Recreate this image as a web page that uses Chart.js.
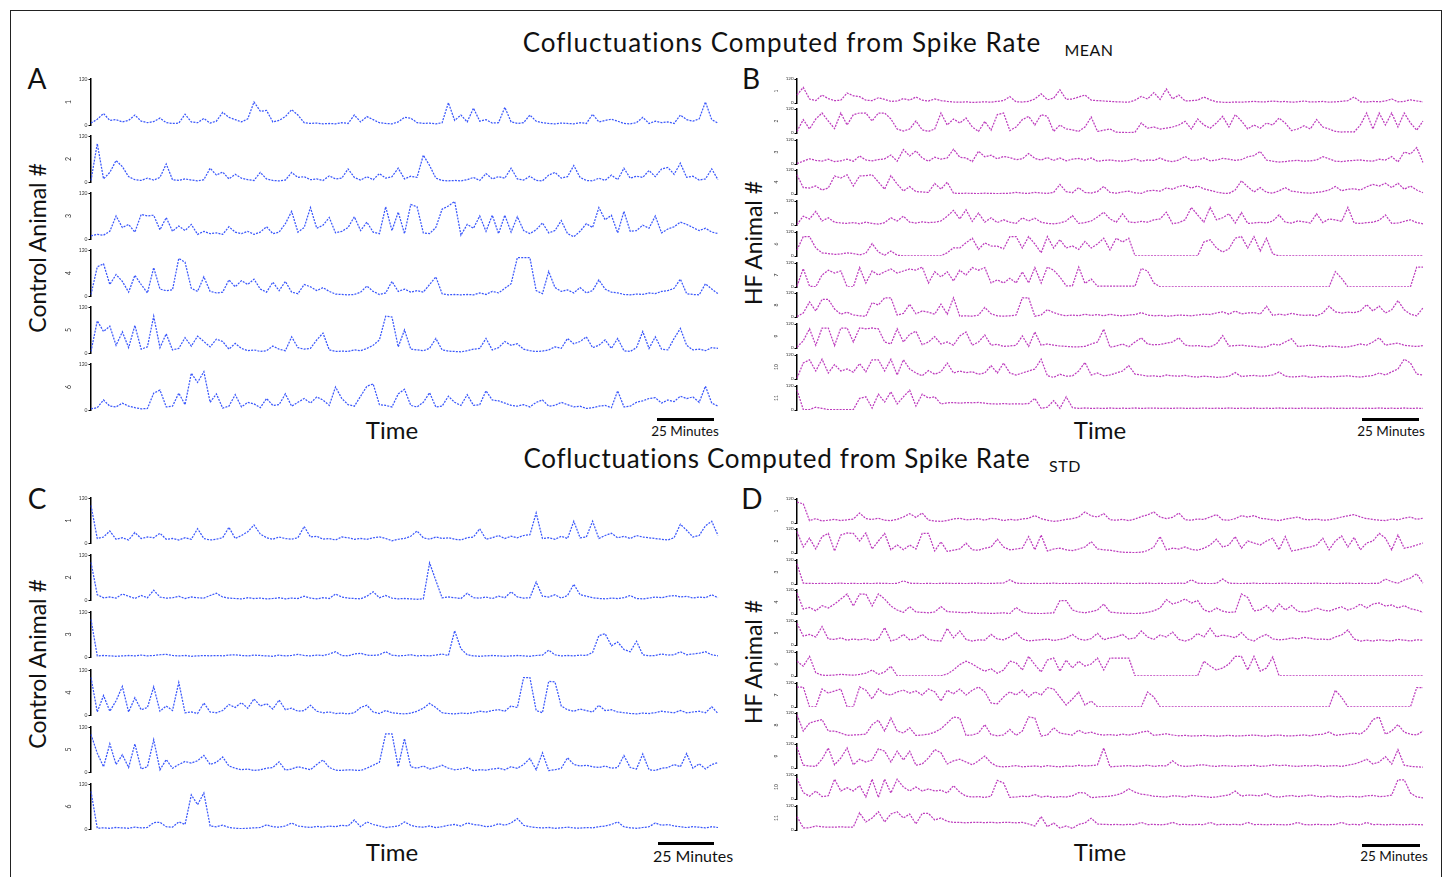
<!DOCTYPE html>
<html>
<head>
<meta charset="utf-8">
<title>Cofluctuations Computed from Spike Rate</title>
<script src="https://cdn.jsdelivr.net/npm/chart.js@4.4.0/dist/chart.umd.min.js"></script>
<style>
  body { margin: 0; background: #fff; font-family: Lato, "Open Sans", sans-serif; color: #111; }
  #frame { position: absolute; left: 10px; top: 10px; width: 1430px; height: 900px; border: 1px solid #222; }
  .txt { position: absolute; white-space: nowrap; line-height: 1; }
  .bar { position: absolute; background: #000; height: 3px; }
  canvas { position: absolute; }
</style>
</head>
<body>
<div id="frame"></div>
<script>
// y axis ticks shared by every trace
const yTicks = [0, 120];

// A: mean, control animals 1-6
const meanCtrl1 = [5,15,30,12,14,8,12,26,10,6, 9,18,6,4,5,28,8,6,17,5, 10,33,20,14,8,16,60,36,38,8, 12,22,40,26,6,4,5,3,4,3, 6,4,26,8,22,14,6,4,3,8, 20,18,6,4,5,3,6,58,12,26, 8,44,10,14,5,6,46,8,4,6, 26,10,6,4,3,5,4,3,6,4, 28,8,12,15,10,4,3,6,20,4, 10,6,8,4,26,14,10,16,60,14, 5];
const meanCtrl2 = [4,100,8,25,56,40,14,6,4,10, 5,12,47,6,4,8,5,3,6,36, 18,26,8,20,10,6,4,25,8,4, 3,5,25,12,14,6,8,4,16,8, 10,34,12,5,14,6,22,10,14,36, 8,15,12,70,43,10,4,3,4,3, 6,12,4,22,8,14,10,36,8,5, 15,4,3,18,25,10,14,43,12,4, 3,10,4,18,6,36,10,15,12,30, 14,34,38,20,49,12,15,5,8,34, 6];
const meanCtrl3 = [8,12,10,20,60,30,38,18,64,60, 62,24,56,20,34,22,38,12,20,14, 16,12,32,18,14,20,12,18,32,14, 18,40,72,18,30,82,28,36,56,16, 20,30,58,22,44,18,14,84,22,70, 14,90,84,16,14,30,78,86,98,10, 38,28,60,20,62,14,62,18,58,22, 14,24,42,16,22,48,14,6,20,40, 30,82,50,62,16,72,20,22,36,28, 60,16,26,32,44,38,30,22,28,18, 14];
const meanCtrl4 = [4,76,84,30,56,38,10,54,30,8, 74,18,14,16,98,88,20,12,50,12, 8,10,42,24,40,30,44,18,10,36, 14,38,10,6,30,24,14,22,12,5, 4,3,4,10,26,12,4,8,38,12, 18,10,14,10,30,50,6,3,4,3, 4,3,8,4,12,8,20,32,100,100, 100,14,6,64,22,12,16,8,22,8, 14,42,18,10,8,4,3,5,4,8, 6,12,14,20,44,6,4,3,32,18, 6];
const meanCtrl5 = [4,84,56,70,20,55,14,72,10,16, 96,14,50,8,12,40,18,44,30,16, 36,30,10,25,12,6,8,4,6,18, 10,6,42,14,10,12,34,52,8,4, 5,4,8,6,12,20,34,96,94,16, 60,10,8,6,12,38,8,5,4,3, 6,10,12,38,8,14,30,20,24,10, 6,4,5,8,16,12,38,24,30,42, 14,20,34,12,38,6,4,14,56,12, 42,10,8,38,64,20,8,10,6,14, 12];
const meanCtrl6 = [3,6,26,10,8,18,10,6,3,4, 44,52,8,10,44,14,96,72,100,20, 42,5,10,40,8,20,16,6,30,12, 14,42,10,20,30,18,34,26,12,60, 30,14,10,36,62,68,14,12,8,42, 54,12,8,20,45,8,10,36,20,12, 40,12,14,50,26,24,18,12,10,14, 8,20,26,10,12,20,14,8,10,4, 6,10,12,6,50,8,10,20,24,30, 32,18,26,22,36,30,34,20,62,18, 10];

// B: mean, HF animals 1-11
const meanHF1 = [40,78,20,12,40,22,12,14,50,36, 32,14,12,26,18,8,10,22,14,30, 14,10,20,12,8,5,4,6,3,4, 6,4,8,12,32,6,5,8,20,46, 16,24,66,18,20,30,40,14,12,10, 8,6,5,4,14,33,20,52,18,70, 20,40,10,12,14,30,16,6,4,3, 5,4,6,8,5,6,10,6,8,4, 6,10,5,6,8,4,6,8,12,30, 6,5,8,6,10,20,6,8,16,10, 6];
const meanHF2 = [8,67,20,70,100,60,22,100,40,92, 100,100,60,100,100,70,20,10,20,60, 16,8,20,100,40,70,50,75,30,8, 58,14,92,100,12,30,67,83,40,92, 83,8,40,20,16,8,30,80,8,14, 20,4,3,2,4,50,24,30,20,24, 30,40,58,20,70,40,24,50,83,30, 92,60,20,40,24,50,40,75,50,12, 20,36,20,67,30,20,8,5,6,5, 40,100,20,100,40,100,30,100,50,14, 60];
const meanHF3 = [2,14,26,18,14,24,12,16,24,14, 40,20,16,22,26,45,14,72,40,66, 30,14,34,24,30,74,34,30,12,64, 36,44,26,38,32,22,26,52,28,20, 32,18,30,16,24,28,20,30,14,18, 20,16,14,18,26,14,20,18,30,16, 12,20,38,18,20,30,16,20,28,24, 18,22,36,42,63,20,14,10,12,16, 18,14,16,20,37,26,14,12,16,18, 20,16,14,24,20,37,10,60,50,82, 8];
const meanHF4 = [96,32,30,40,20,30,90,80,96,40, 90,92,96,60,24,92,50,15,37,12, 10,8,53,24,59,4,3,4,3,2, 4,3,2,3,4,8,4,3,8,5, 3,8,48,12,6,32,8,5,12,38, 8,4,10,14,6,3,16,18,14,30, 24,38,43,30,40,26,18,10,4,3, 20,66,36,10,32,8,4,16,32,14, 10,6,4,8,12,20,38,16,24,26, 20,36,48,40,54,32,54,24,40,20, 6];
const meanHF5 = [2,44,30,68,20,36,14,10,8,12, 6,14,8,4,12,36,20,44,14,10, 16,12,14,20,44,73,30,76,18,60, 14,36,12,26,14,8,36,20,34,14, 8,6,10,20,47,8,12,20,40,64, 30,14,56,16,12,18,14,26,30,64, 6,12,26,88,50,14,88,26,36,56, 10,62,8,10,14,10,20,50,14,10, 20,16,10,56,12,30,26,18,88,10, 8,12,14,24,50,8,10,18,26,12, 6];
const meanHF6 = [30,97,97,40,16,12,8,10,16,12, 6,14,62,20,4,25,4,1,1,1, 1,1,1,1,16,41,40,66,89,33, 66,50,49,36,97,97,40,97,60,16, 97,40,82,40,50,33,73,40,60,89, 30,89,70,89,1,1,1,1,1,1, 1,1,1,1,1,70,81,40,20,36, 89,97,40,97,25,89,10,1,1,1, 1,1,1,1,1,1,1,1,1,1, 1,1,1,1,1,1,1,1,1,1, 1];
const meanHF7 = [4,92,4,1,60,84,70,80,1,1, 97,20,80,60,76,90,70,80,90,84, 100,20,76,50,76,30,84,60,97,84, 97,20,36,20,44,20,76,20,97,20, 100,84,50,6,6,100,18,40,4,4, 4,4,4,4,4,93,80,20,1,1, 1,1,1,1,1,1,1,1,1,1, 1,1,1,1,1,1,1,1,1,1, 1,1,1,1,1,1,77,43,1,1, 1,1,1,1,1,1,1,1,1,100, 100];
const meanHF8 = [2,20,75,30,88,88,40,14,24,10, 6,4,72,60,96,96,10,18,64,16, 30,24,14,64,14,96,4,6,4,10, 48,16,6,4,6,10,96,96,4,10, 37,22,12,6,10,6,14,8,12,6, 14,8,6,10,12,22,10,6,8,4, 6,10,8,6,10,14,12,20,26,14, 30,16,20,22,14,54,8,14,10,18, 12,8,10,6,20,54,26,20,24,22, 30,62,30,54,20,36,82,36,14,6, 46];
const meanHF9 = [4,36,96,14,100,100,12,100,100,30, 100,96,100,96,30,20,96,30,68,84, 16,30,57,20,30,14,60,80,14,30, 65,14,18,8,10,14,60,8,80,14, 20,14,10,8,6,6,8,20,30,94, 4,10,20,6,30,51,20,16,18,24, 30,51,14,10,12,8,6,20,62,10, 12,14,10,8,4,6,20,14,30,46, 8,10,14,12,6,10,8,4,6,12, 20,14,30,51,14,20,24,14,10,8, 12];
const meanHF10 = [4,80,96,40,99,30,72,40,50,34, 77,36,96,96,40,99,20,96,50,30, 16,42,24,36,80,30,40,32,36,24, 30,67,30,80,30,20,30,40,50,99, 16,8,24,14,16,40,83,20,30,16, 20,30,40,67,24,20,14,16,12,20, 16,14,18,12,10,14,12,8,10,14, 32,12,16,18,14,16,20,35,14,10, 12,16,8,10,14,10,12,14,16,12, 10,14,18,30,20,36,50,99,80,24, 20];
const meanHF11 = [100,2,2,14,8,2,2,2,2,2, 58,66,10,79,40,91,30,66,99,20, 79,60,66,30,36,37,34,37,36,38, 34,31,30,32,30,31,30,32,58,8, 14,47,8,66,12,8,10,8,9,8, 10,8,9,8,10,8,9,10,8,9, 8,10,8,9,8,10,8,9,8,10, 8,9,8,10,8,9,8,10,8,9, 8,10,8,9,8,10,8,9,8,10, 8,9,8,10,8,9,8,10,8,9, 8];

// C: std, control animals 1-6
const stdCtrl1 = [100,12,16,32,10,14,8,28,12,16, 14,26,10,12,8,14,10,38,12,8, 10,14,42,12,20,30,48,24,14,10, 16,12,10,14,44,16,18,10,12,8, 16,14,10,12,10,14,16,12,6,10, 12,18,32,14,10,16,12,14,10,8, 14,16,38,10,14,20,12,18,14,20, 22,80,12,14,10,18,12,58,14,16, 58,12,20,26,14,18,12,20,16,14, 12,10,8,14,50,34,16,20,46,58, 20];
const stdCtrl2 = [100,14,6,8,5,16,10,4,12,6, 26,8,5,6,10,4,8,6,5,12, 18,8,5,4,3,6,4,5,3,4, 6,3,5,4,10,5,3,6,4,16, 8,5,4,3,10,22,6,12,5,3, 4,3,2,3,99,52,6,8,6,4, 18,6,5,8,4,10,6,22,8,5, 6,48,10,8,14,5,12,42,14,10, 6,4,3,5,4,6,12,4,3,5, 8,6,10,12,8,10,5,8,6,14, 6];
const stdCtrl3 = [100,3,4,3,2,3,4,3,5,3, 4,6,7,4,3,4,2,3,4,3, 4,3,5,6,4,3,5,4,3,2, 5,3,4,7,4,3,5,4,8,14, 4,3,8,10,5,4,6,14,5,3, 4,6,3,4,3,5,8,4,70,22, 6,3,2,3,4,3,2,3,4,3, 2,4,5,18,6,3,4,3,5,4, 12,57,62,30,40,20,14,42,6,3, 4,8,5,6,14,6,8,10,14,6, 3];
const stdCtrl4 = [100,8,52,10,38,76,8,46,14,20, 75,10,24,12,87,6,8,4,32,8, 6,12,28,20,33,18,43,24,30,16, 40,14,18,10,12,26,10,6,8,4, 5,3,6,20,26,8,4,12,6,4, 3,5,10,18,31,20,6,4,3,5, 4,6,10,8,12,14,10,24,20,100, 100,12,6,90,88,24,14,10,16,12, 8,26,12,14,8,6,4,3,5,4, 6,10,8,6,12,6,8,10,6,22, 4];
const stdCtrl5 = [100,50,14,75,20,46,12,75,8,14, 86,6,33,10,20,28,24,30,44,20, 26,40,16,10,6,8,4,6,10,12, 27,5,8,14,10,6,20,32,12,5, 4,6,5,4,10,18,26,102,102,14, 89,14,10,16,8,12,18,10,6,8, 12,4,6,5,8,10,6,14,10,20, 36,6,51,4,6,10,38,20,16,18, 14,12,16,10,12,44,12,8,48,6, 4,10,12,20,14,49,10,22,8,20, 25];
const stdCtrl6 = [100,2,3,2,4,3,2,5,3,4, 17,18,6,5,19,12,91,65,96,8, 6,10,4,2,1,2,3,4,11,6, 5,8,16,8,6,4,7,5,8,6, 10,8,24,6,19,12,8,4,6,8, 19,10,6,5,8,4,6,10,12,8, 16,12,10,6,8,14,10,16,28,10, 6,4,3,4,2,3,5,3,2,4, 3,6,8,12,19,6,3,2,4,6, 16,10,12,8,6,4,6,5,3,6, 4];

// D: std, HF animals 1-11
const stdHF1 = [104,96,12,22,10,14,18,12,16,20, 50,22,18,24,14,12,18,30,47,28, 50,14,10,8,12,20,24,16,18,22, 14,24,20,12,18,14,20,24,37,22, 14,8,12,18,22,30,55,36,30,47, 16,14,18,12,20,32,40,55,30,22, 28,50,16,14,20,18,30,42,16,14, 22,37,30,37,24,20,16,12,20,24, 30,18,16,20,14,16,22,30,36,42, 30,22,18,14,12,20,16,24,30,18, 24];
const stdHF2 = [107,30,74,20,82,98,10,90,100,98, 60,100,20,60,98,16,40,16,40,20, 98,98,10,56,8,14,20,49,16,14, 24,30,69,30,16,20,24,82,16,90, 10,20,24,16,12,20,30,57,20,16, 14,8,4,3,2,4,12,30,82,16, 24,20,30,18,14,24,40,69,30,40, 82,24,60,50,40,60,74,16,82,10, 16,24,30,40,74,16,60,85,30,78, 16,50,60,98,74,16,90,24,30,40, 50];
const stdHF3 = [100,4,3,2,3,2,3,4,2,3, 2,3,2,4,3,2,3,16,4,3, 2,3,2,3,4,2,3,2,3,4, 2,3,4,5,21,4,3,2,3,2, 3,4,2,3,2,3,4,2,3,2, 3,4,2,3,2,3,4,2,3,2, 3,4,3,21,4,3,2,3,25,4, 3,2,3,4,2,3,2,3,4,2, 3,2,3,4,2,3,2,3,4,2, 3,2,3,4,25,12,4,20,30,51, 4];
const stdHF4 = [105,25,33,16,42,30,50,75,100,40, 100,100,40,100,75,40,20,8,37,10, 8,6,10,37,12,10,8,6,10,4, 5,3,4,6,2,33,10,4,3,2, 4,6,67,67,20,10,6,12,20,50, 10,6,4,3,2,4,8,16,30,72, 50,60,75,55,67,20,10,30,14,8, 10,100,83,16,20,42,12,50,20,42, 14,10,16,30,20,14,26,36,20,30, 50,30,50,55,40,45,30,42,26,20, 8];
const stdHF5 = [108,45,53,40,92,30,28,36,24,30, 26,32,22,30,87,20,30,53,26,30, 53,28,22,20,83,36,70,28,20,26, 24,53,30,26,40,62,30,20,24,26, 30,22,28,34,53,30,24,32,58,26, 36,40,53,30,36,70,40,28,50,40, 65,28,20,30,58,40,83,40,50,44, 36,62,30,20,40,53,30,26,28,36, 30,38,34,28,30,26,40,50,75,30, 20,24,20,26,22,20,28,24,20,26, 24];
const stdHF6 = [74,49,98,16,4,3,5,8,6,4, 8,14,30,8,20,49,1,1,1,1, 1,1,1,1,10,30,57,74,60,40, 24,36,14,30,74,66,30,98,56,20, 80,90,24,80,40,74,50,60,90,30, 90,90,90,90,1,1,1,1,1,1, 1,1,1,1,1,74,50,30,40,60, 98,98,30,98,24,40,95,1,1,1, 1,1,1,1,1,1,1,1,1,1, 1,1,1,1,1,1,1,1,1,1, 1];
const stdHF7 = [100,100,1,1,90,70,80,90,1,1, 100,84,40,90,66,60,76,84,70,80, 60,90,76,30,84,66,90,60,84,100, 76,20,16,50,76,60,84,50,76,60, 97,90,50,10,40,75,10,30,1,1, 1,1,1,1,1,1,75,50,1,1, 1,1,1,1,1,1,1,1,1,1, 1,1,1,1,1,1,1,1,1,1, 1,1,1,1,1,1,84,48,1,1, 1,1,1,1,1,1,1,1,1,97, 97];
const stdHF8 = [111,30,70,79,87,30,30,20,8,10, 12,14,62,84,30,95,30,20,46,8, 10,14,24,41,70,100,95,8,10,20, 62,12,6,10,38,8,30,100,95,5, 10,46,20,14,10,34,18,24,14,10, 12,8,14,10,16,24,30,8,12,16, 10,6,8,5,6,8,6,4,6,8, 5,6,8,10,6,4,8,10,6,5, 8,10,6,12,14,25,8,12,16,20, 14,38,87,100,14,30,62,24,14,10, 30];
const stdHF9 = [105,14,10,8,44,100,16,50,100,16, 44,30,40,96,84,30,84,40,84,14, 20,50,92,76,20,36,44,30,16,36, 60,26,8,6,8,12,6,8,10,6, 12,8,6,10,8,14,10,12,16,100, 6,8,10,12,8,10,14,8,12,10, 36,12,8,10,14,16,10,8,12,10, 8,12,10,14,8,10,16,12,14,10, 8,12,10,14,8,10,12,8,14,20, 30,44,20,30,57,20,92,14,8,6, 4];
const stdHF10 = [104,32,14,40,12,16,99,40,56,40, 67,10,99,8,99,30,99,60,40,60, 40,50,40,44,30,67,34,14,10,12, 8,14,93,80,8,10,14,12,22,10, 14,8,12,10,16,32,30,6,10,12, 14,20,30,51,34,24,20,14,12,10, 16,14,10,18,14,12,8,10,16,20, 40,14,20,18,16,28,12,10,14,18, 12,16,20,14,10,16,12,10,14,12, 10,16,18,12,14,20,96,96,30,10, 6];
const stdHF11 = [67,11,11,20,16,14,14,16,14,15, 86,40,60,91,40,80,91,60,80,30, 83,83,50,60,43,38,38,36,38,38, 37,38,36,38,38,36,38,30,20,67, 16,35,10,20,8,28,35,59,30,28, 27,28,26,28,27,38,27,28,26,28, 38,27,28,26,28,27,38,26,28,27, 28,26,38,27,28,26,28,27,26,28, 38,27,26,28,27,26,28,38,27,28, 26,38,27,28,26,28,27,26,28,27, 26];

const BLUE = '#3a57fb';
const MAGENTA = '#bd3cbd';

const panels = [
  { series: [meanCtrl1, meanCtrl2, meanCtrl3, meanCtrl4, meanCtrl5, meanCtrl6], axisX: 91, endX: 718,
    tops: [79, 136, 193, 250, 307, 364], h: 46, color: BLUE, small: false },
  { series: [meanHF1, meanHF2, meanHF3, meanHF4, meanHF5, meanHF6, meanHF7, meanHF8, meanHF9, meanHF10, meanHF11],
    axisX: 797, endX: 1423, tops: [79, 109, 140, 170, 201, 232, 263, 293, 324, 355, 386], h: 24, color: MAGENTA, small: true },
  { series: [stdCtrl1, stdCtrl2, stdCtrl3, stdCtrl4, stdCtrl5, stdCtrl6], axisX: 91, endX: 718,
    tops: [498, 555, 612, 670, 727, 784], h: 45, color: BLUE, small: false },
  { series: [stdHF1, stdHF2, stdHF3, stdHF4, stdHF5, stdHF6, stdHF7, stdHF8, stdHF9, stdHF10, stdHF11],
    axisX: 797, endX: 1423, tops: [499, 529, 560, 590, 621, 652, 683, 713, 744, 775, 806], h: 24, color: MAGENTA, small: true }
];

const PAD = 5;

function drawTrace(values, num, p, top) {
  const axisW = p.small ? 26 : 28;
  const cv = document.createElement('canvas');
  const w = axisW + (p.endX - p.axisX) + 2;
  const h = p.h + PAD * 2;
  cv.width = w; cv.height = h;
  cv.style.left = (p.axisX - axisW) + 'px';
  cv.style.top = (top - PAD) + 'px';
  document.body.appendChild(cv);

  new Chart(cv, {
    type: 'line',
    data: {
      labels: values.map((_, i) => i),
      datasets: [{
        data: values,
        borderColor: p.color,
        borderWidth: 1.25,
        borderDash: [2, 1.2],
        pointRadius: 0,
        fill: false,
        tension: 0
      }]
    },
    options: {
      responsive: false,
      animation: false,
      events: [],
      devicePixelRatio: 1,
      layout: { padding: { top: PAD, bottom: PAD, left: 0, right: 2 } },
      plugins: { legend: { display: false }, tooltip: { enabled: false } },
      scales: {
        x: { display: false },
        y: {
          min: 0, max: 120,
          afterBuildTicks: s => { s.ticks = yTicks.map(v => ({ value: v })); },
          afterFit: s => { s.width = axisW; },
          ticks: { font: { size: p.small ? 4.5 : 5, family: 'Lato' }, color: '#333', padding: 1 },
          grid: { drawOnChartArea: false, tickLength: 2.5, color: '#000', lineWidth: 1 },
          border: { color: '#000', width: 1.5 },
          title: { display: true, text: String(num), font: { size: p.small ? 5 : 7, family: 'Lato' }, color: '#333', padding: 2 }
        }
      }
    }
  });
}

panels.forEach(p => {
  p.series.forEach((vals, k) => drawTrace(vals, k + 1, p, p.tops[k]));
});

function addText(txt, x, y, size, rot, spacing) {
  const d = document.createElement('div');
  d.className = 'txt';
  d.textContent = txt;
  d.style.left = x + 'px';
  d.style.top = y + 'px';
  d.style.fontSize = size + 'px';
  if (spacing) d.style.letterSpacing = spacing + 'px';
  d.style.transform = 'translate(-50%, -50%)' + (rot ? ' rotate(-90deg)' : '');
  document.body.appendChild(d);
}

function addBar(x1, x2, y) {
  const b = document.createElement('div');
  b.className = 'bar';
  b.style.left = x1 + 'px';
  b.style.top = y + 'px';
  b.style.width = (x2 - x1) + 'px';
  document.body.appendChild(b);
}

// titles
addText('Cofluctuations Computed from Spike Rate', 782, 42, 26, false, 1);
addText('MEAN', 1089, 50, 16, false, 0.5);
addText('Cofluctuations Computed from Spike Rate', 777, 458, 26, false, 0.7);
addText('STD', 1065, 466, 16, false, 0.5);

// panel letters
addText('A', 37, 78, 28);
addText('B', 751, 78, 28);
addText('C', 37, 498, 28);
addText('D', 752, 498, 28);

// axis titles
addText('Control Animal #', 37, 248, 23, true);
addText('HF Animal #', 753, 243, 23, true);
addText('Control Animal #', 37, 664, 23, true);
addText('HF Animal #', 753, 662, 23, true);

addText('Time', 392, 430, 24);
addText('Time', 1100, 430, 24);
addText('Time', 392, 852, 24);
addText('Time', 1100, 852, 24);

// scale bars
addBar(657, 714, 418);
addText('25 Minutes', 685, 432, 13.5);
addBar(1362, 1419, 418);
addText('25 Minutes', 1391, 432, 13.5);
addBar(658, 714, 842);
addText('25 Minutes', 693, 856, 16);
addBar(1362, 1420, 844);
addText('25 Minutes', 1394, 857, 13.5);
</script>
</body>
</html>
